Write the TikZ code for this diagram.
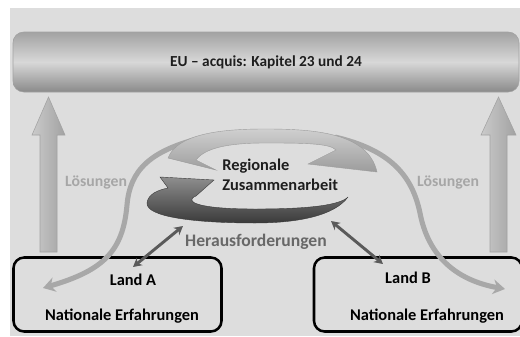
\documentclass[tikz,border=0pt]{standalone}
\usepackage{fontspec}
\setmainfont{Carlito}
\usetikzlibrary{arrows.meta}
\definecolor{bg}{HTML}{DDDDDD}
\definecolor{eutop}{HTML}{A2A2A2}
\definecolor{eumid}{HTML}{D8D8D8}
\definecolor{eubot}{HTML}{8A8A8A}
\definecolor{darktext}{HTML}{1E1E1E}
\definecolor{loesung}{HTML}{A6A6A6}
\definecolor{heraus}{HTML}{686868}
\definecolor{scurve}{HTML}{A8A8A8}
\definecolor{dblarrow}{HTML}{5A5A5A}
\definecolor{uplight}{HTML}{CACACA}
\definecolor{updark}{HTML}{A2A2A2}
\definecolor{cyclight}{HTML}{CFCFCF}
\definecolor{cycmid}{HTML}{9C9C9C}
\definecolor{cycdarkA}{HTML}{8E8E8E}
\definecolor{cycdarkB}{HTML}{3A3A3A}
\tikzset{
  eubar/.style={minimum width=379.5pt, minimum height=45pt, rounded corners=8pt,
    top color=eutop, bottom color=eubot, middle color=eumid, draw=eutop, line width=0.4pt,
    font=\fontsize{11.5}{13}\selectfont\bfseries, text=darktext},
  landbox/.style={draw=black, line width=1.9pt, rounded corners=8pt,
    minimum width=156pt, minimum height=55.5pt, inner sep=0pt},
  landtext/.style={font=\fontsize{12.3}{14}\selectfont\bfseries, text=black},
  loesungtext/.style={font=\fontsize{11.8}{13}\selectfont\bfseries, text=loesung},
  uparrow/.style={left color=uplight, right color=updark, draw=updark, line width=0.4pt},
  sline/.style={draw=scurve, line width=3.8pt, -{Stealth[length=9pt,width=11pt]}},
  dbl/.style={draw=dblarrow, line width=2.2pt, {Stealth[length=6.5pt,width=7pt]}-{Stealth[length=6.5pt,width=7pt]}},
}
\begin{document}
\begin{tikzpicture}[x=0.75pt,y=-0.75pt]
\useasboundingbox (0,0) rectangle (520,336);
\fill[white] (0,0) rectangle (520,336);
\fill[bg] (10,8) rectangle (520,336);

% EU bar
\node[eubar] (eu) at (266,62) {EU – acquis: Kapitel 23 und 24};

% big up arrows
\shade[uparrow] (40,252) -- (40,135) -- (32,135) -- (48.5,97) -- (65,135) -- (57,135) -- (57,252) -- cycle;
\shade[uparrow] (490,252) -- (490,135) -- (481,135) -- (498.5,97) -- (516,135) -- (507,135) -- (507,252) -- cycle;

% land boxes
\node[landbox] (landA) at (117.5,294.5) {};
\node[landbox] (landB) at (418,294.5) {};
\node[landtext] (landAt) at (133,280) {Land A};
\node[landtext] (neA) at (122,316) {Nationale Erfahrungen};
\node[landtext] (landBt) at (408,278) {Land B};
\node[landtext] (neB) at (427,316) {Nationale Erfahrungen};

% Loesungen
\node[loesungtext] (loesA) at (96,182) {Lösungen};
\node[loesungtext] (loesB) at (448,182) {Lösungen};

% S-curves
\coordinate (sA0) at (205,137);
\coordinate (sA1) at (43,288);
\coordinate (sB0) at (335,137);
\coordinate (sB1) at (505,289);
\draw[sline] (sA0) .. controls (150,150) and (130,170) .. (127,205)
   .. controls (123,250) and (105,270) .. (sA1);
\draw[sline] (sB0) .. controls (390,150) and (412,175) .. (420,213)
   .. controls (428,255) and (455,280) .. (sB1);

% upper light cycle arrow
\shade[top color=cyclight, bottom color=cycmid, draw=cycmid, line width=0.3pt]
  (168,158) .. controls (178,132) and (228,129) .. (265,129)
  .. controls (312,129) and (368,132) .. (377,172)
  -- (308,164) -- (336,150)
  .. controls (330,143) and (300,143) .. (265,143)
  .. controls (228,143) and (205,148) .. (196,160)
  -- (216,170) -- cycle;

% lower dark cycle arrow
\shade[top color=cycdarkA, bottom color=cycdarkB, draw=cycdarkB, line width=0.3pt]
  (348,197) .. controls (335,215) and (300,223) .. (255,223)
  .. controls (195,223) and (146,217) .. (147,203)
  .. controls (148,194) and (158,190) .. (168,188)
  -- (160,177) -- (214,180) -- (196,196)
  .. controls (184,201) and (195,209) .. (255,209)
  .. controls (310,209) and (340,205) .. cycle;

% centre texts
\node[anchor=west, align=left, font=\fontsize{12.3}{15}\selectfont\bfseries, text=darktext, inner sep=0pt] (reg) at (222,175) {Regionale\\Zusammenarbeit};
\node[font=\fontsize{13.2}{15}\selectfont\bfseries, text=heraus] (her) at (256,242) {Herausforderungen};

% double arrows
\coordinate (dA1) at (133,267);
\coordinate (dA2) at (183,226);
\coordinate (dB1) at (331,221);
\coordinate (dB2) at (383,264);
\draw[dbl] (dA1) -- (dA2);
\draw[dbl] (dB1) -- (dB2);
\end{tikzpicture}
\end{document}
